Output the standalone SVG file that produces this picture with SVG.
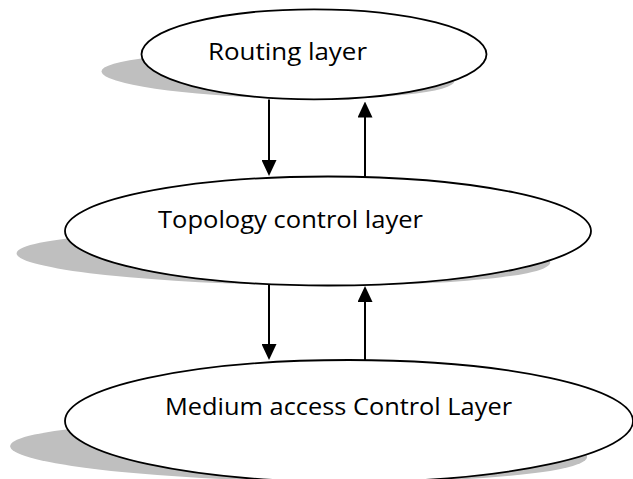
<svg xmlns="http://www.w3.org/2000/svg" width="633" height="479" viewBox="0 0 633 479">
  <style>
    .shadow { fill: #bfbfbf; stroke: none; }
    .shape { fill: #ffffff; stroke: #000000; stroke-width: 1.8; }
    .label { font-family: "Open Sans", "Liberation Sans", sans-serif; font-size: 24.5px; fill: #000000; }
    .conn { stroke: #000000; stroke-width: 2; fill: none; marker-end: url(#arrow); }
  </style>
  <defs>
    <marker id="arrow" markerUnits="userSpaceOnUse" markerWidth="16" markerHeight="15" refX="12" refY="7.5" orient="auto">
      <path d="M0,0 L16,7.5 L0,15 Z" fill="#000000"/>
    </marker>
  </defs>

  <g id="node-routing">
    <ellipse class="shadow" cx="314" cy="54.3" rx="172.5" ry="45" transform="translate(314 98) skewX(58.8) scale(1 0.5) translate(-314 -98)"/>
    <ellipse class="shape" cx="314" cy="54.3" rx="172.5" ry="45"/>
    <text class="label" x="208" y="60" textLength="159" lengthAdjust="spacingAndGlyphs">Routing layer</text>
  </g>

  <g id="node-topology">
    <ellipse class="shadow" cx="328" cy="231" rx="263" ry="54.5" transform="translate(328 285) skewX(58.8) scale(1 0.5) translate(-328 -285)"/>
    <ellipse class="shape" cx="328" cy="231" rx="263" ry="54.5"/>
    <text class="label" x="158" y="228.3" textLength="265" lengthAdjust="spacingAndGlyphs">Topology control layer</text>
  </g>

  <g id="node-mac">
    <ellipse class="shadow" cx="349" cy="421" rx="284" ry="61" transform="translate(349 482) skewX(58.8) scale(1 0.5) translate(-349 -482)"/>
    <ellipse class="shape" cx="349" cy="421" rx="284" ry="61"/>
    <text class="label" x="165" y="415" textLength="347" lengthAdjust="spacingAndGlyphs">Medium access Control Layer</text>
  </g>

  <g id="connectors">
    <line class="conn" x1="269" y1="99.5" x2="269" y2="172"/>
    <line class="conn" x1="365" y1="177" x2="365" y2="105.5"/>
    <line class="conn" x1="269" y1="285" x2="269" y2="356"/>
    <line class="conn" x1="365" y1="361" x2="365" y2="290"/>
  </g>
</svg>
